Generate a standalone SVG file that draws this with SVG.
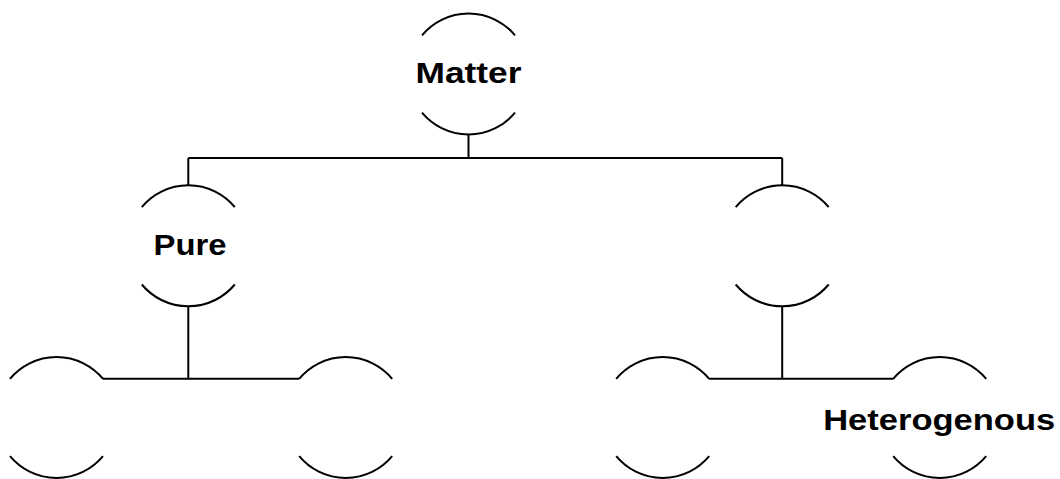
<svg xmlns="http://www.w3.org/2000/svg" width="1060" height="479" viewBox="0 0 1060 479">
<style>
.arc{fill:none;stroke:#000;stroke-width:2}
.ln{fill:none;stroke:#000;stroke-width:2}
.lbl{font-family:"Liberation Sans",Arial,sans-serif;font-weight:bold;font-size:30px;fill:#000;text-anchor:middle}
</style>
<rect width="1060" height="479" fill="#fff"/>
<g id="connectors">
<path class="ln" d="M468.5 134.5V158M188.3 158H782.2M188.3 158V185.8M782.2 158V185.8"/>
<path class="ln" d="M188.3 306.3V378.8M103 378.8H299.2"/>
<path class="ln" d="M782.2 306.3V378.8M709.2 378.8H893.2"/>
</g>
<g id="matter">
<path class="arc" d="M422 35.3A60.5 60.5 0 0 1 515 35.3M422 112.7A60.5 60.5 0 0 0 515 112.7"/>
<text class="lbl" x="468.5" y="83.3" textLength="106" lengthAdjust="spacingAndGlyphs">Matter</text>
</g>
<g id="pure">
<path class="arc" d="M141.8 207.1A60.5 60.5 0 0 1 234.8 207.1M141.8 284.5A60.5 60.5 0 0 0 234.8 284.5"/>
<text class="lbl" x="190" y="255" textLength="73" lengthAdjust="spacingAndGlyphs">Pure</text>
</g>
<g id="mixture">
<path class="arc" d="M735.7 207.1A60.5 60.5 0 0 1 828.7 207.1M735.7 284.5A60.5 60.5 0 0 0 828.7 284.5"/>
</g>
<g id="pure-left">
<path class="arc" d="M10 378.8A60.5 60.5 0 0 1 103 378.8M10 456.2A60.5 60.5 0 0 0 103 456.2"/>
</g>
<g id="pure-right">
<path class="arc" d="M299.2 378.8A60.5 60.5 0 0 1 392.2 378.8M299.2 456.2A60.5 60.5 0 0 0 392.2 456.2"/>
</g>
<g id="mixture-left">
<path class="arc" d="M616.2 378.8A60.5 60.5 0 0 1 709.2 378.8M616.2 456.2A60.5 60.5 0 0 0 709.2 456.2"/>
</g>
<g id="heterogenous">
<path class="arc" d="M893.2 378.8A60.5 60.5 0 0 1 986.2 378.8M893.2 456.2A60.5 60.5 0 0 0 986.2 456.2"/>
<text class="lbl" x="939.2" y="430" textLength="232" lengthAdjust="spacingAndGlyphs">Heterogenous</text>
</g>
</svg>
